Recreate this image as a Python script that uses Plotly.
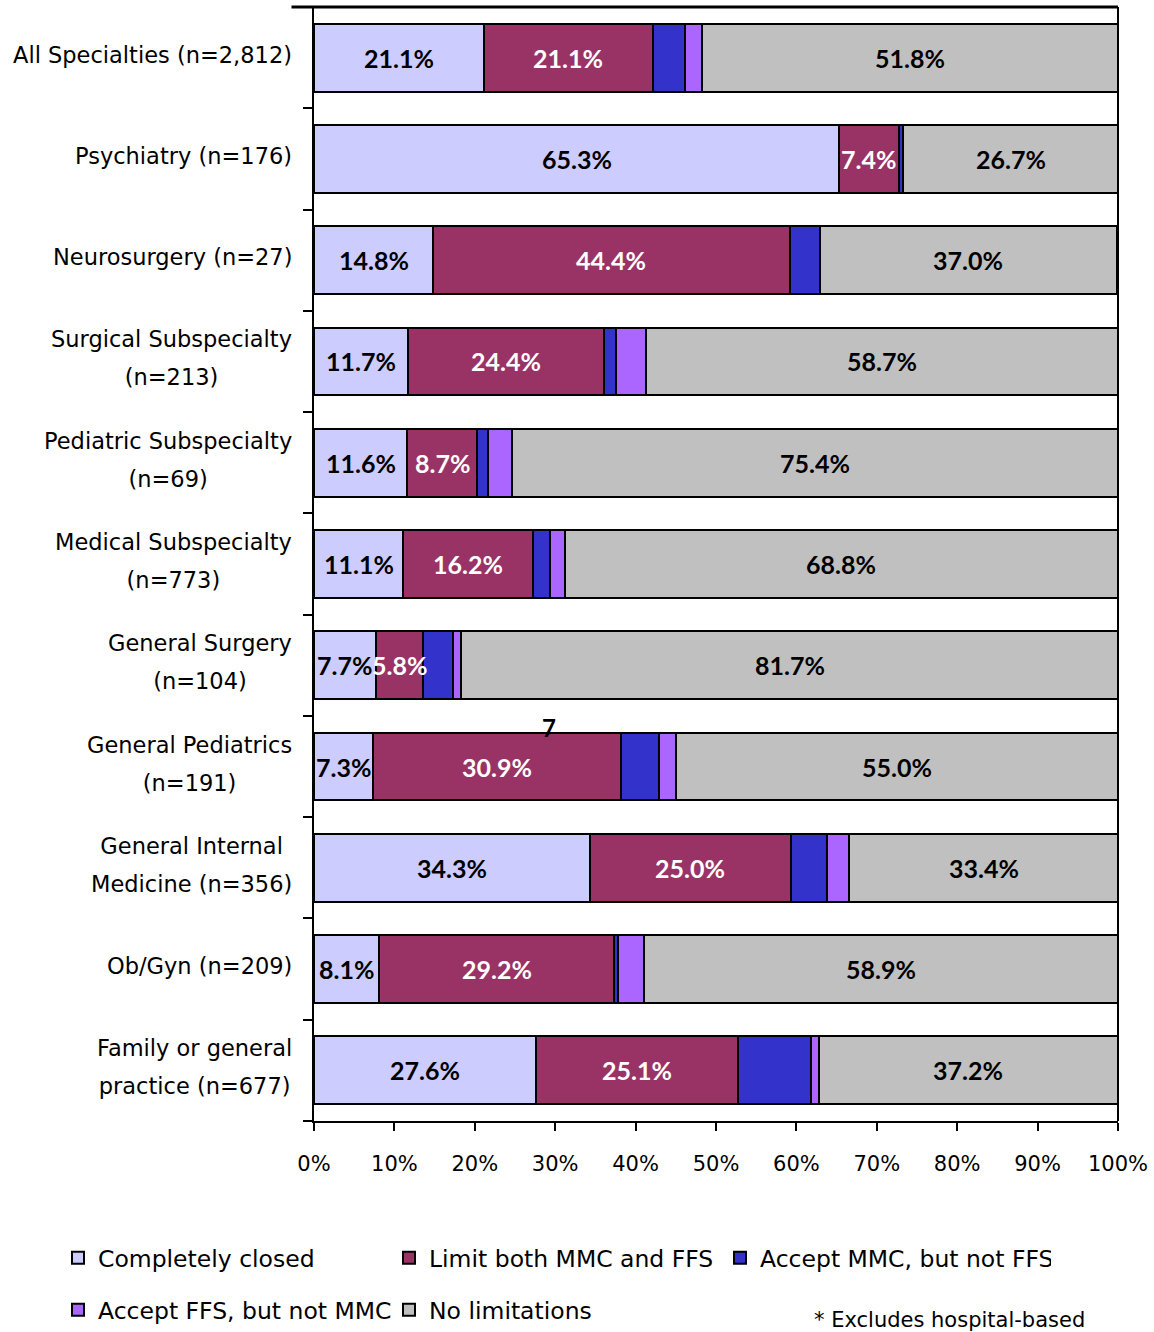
import plotly.graph_objects as go

# Share of physicians by acceptance of new patients, per specialty (percent)
categories = [
    "All Specialties (n=2,812)",
    "Psychiatry (n=176)",
    "Neurosurgery (n=27)",
    "Surgical Subspecialty\n(n=213)",
    "Pediatric Subspecialty\n(n=69)",
    "Medical Subspecialty\n(n=773)",
    "General Surgery\n(n=104)",
    "General Pediatrics\n(n=191)",
    "General Internal\nMedicine (n=356)",
    "Ob/Gyn (n=209)",
    "Family or general\npractice (n=677)",
]

completely_closed = [21.1, 65.3, 14.8, 11.7, 11.6, 11.1, 7.7, 7.3, 34.3, 8.1, 27.6]
limit_both = [21.1, 7.4, 44.4, 24.4, 8.7, 16.2, 5.8, 30.9, 25.0, 29.2, 25.1]
accept_mmc_not_ffs = [4.0, 0.6, 3.7, 1.4, 1.4, 2.1, 3.8, 4.7, 4.5, 0.5, 9.1]
accept_ffs_not_mmc = [2.0, 0.0, 0.0, 3.8, 2.9, 1.8, 1.0, 2.1, 2.8, 3.3, 1.0]
no_limitations = [51.8, 26.7, 37.0, 58.7, 75.4, 68.8, 81.7, 55.0, 33.4, 58.9, 37.2]

series_names = [
    "Completely closed",
    "Limit both MMC and FFS",
    "Accept MMC, but not FFS",
    "Accept FFS, but not MMC",
    "No limitations",
]
series_values = [completely_closed, limit_both, accept_mmc_not_ffs,
                 accept_ffs_not_mmc, no_limitations]
series_colors = ["#CCCCFF", "#993366", "#3333CC", "#AA66FF", "#C0C0C0"]
series_legends = ["legend", "legend", "legend", "legend2", "legend2"]
# which series carry a value label, and in what colour
label_colors = ["black", "white", None, None, "black"]

x_ticks = list(range(0, 101, 10))

FONT = "DejaVu Sans"
VALUE_FONT = "Lato"
LABEL_SIZE = 22.5
LINE_GAP = 38
W, H = 1154, 1332
L, R, T, B = 314, 36, 7, 211
PW, PH = W - L - R, H - T - B


def px_to_paper_x(px):
    return (px - L) / PW


def px_to_paper_y(py):
    return (H - B - py) / PH


fig = go.Figure()
ycat = list(range(len(categories)))

for name, vals, col, lg in zip(series_names, series_values, series_colors, series_legends):
    fig.add_trace(go.Bar(
        y=ycat, x=vals, name=name, orientation="h",
        marker=dict(color=col, line=dict(color="black", width=2)),
        legend=lg, hoverinfo="x+name",
    ))

annotations = []

# value labels centred in their segments
cum = [0.0] * len(categories)
for vals, lc in zip(series_values, label_colors):
    for i, v in enumerate(vals):
        if lc is not None:
            annotations.append(dict(
                x=cum[i] + v / 2, y=i, xref="x", yref="y",
                text=f"{v:.1f}%", showarrow=False,
                font=dict(family=VALUE_FONT, size=25, color=lc, weight="bold"),
            ))
        cum[i] += v

# category labels: centred lines, right edge beside the axis; the outer font
# size sets the line pitch while the spans carry the visible glyph size
for i, cat in enumerate(categories):
    lines = cat.split("\n")
    annotations.append(dict(
        x=0, y=i, xref="paper", yref="y", xanchor="right", yanchor="middle",
        align="center", xshift=-20, yshift=3,
        text="<br>".join(f'<span style="font-size:{LABEL_SIZE}px">{ln}</span>' for ln in lines),
        showarrow=False,
        font=dict(family=FONT, size=LINE_GAP / 1.3, color="black"),
    ))

# stray marker label above General Pediatrics
annotations.append(dict(
    x=29.2, y=6.61, xref="x", yref="y", text="7", showarrow=False,
    font=dict(family=VALUE_FONT, size=24, color="black", weight="bold"),
))

# footnote
annotations.append(dict(
    x=px_to_paper_x(812), y=px_to_paper_y(1306), xref="paper", yref="paper",
    xanchor="left", yanchor="top", text="* Excludes hospital-based",
    showarrow=False, font=dict(family=FONT, size=21, color="black"),
))

legend_common = dict(
    orientation="h", xanchor="left", yanchor="middle",
    entrywidth=286, font=dict(family=FONT, size=23.5), traceorder="normal",
)

fig.update_layout(
    width=W, height=H,
    margin=dict(l=L, r=R, t=T, b=B),
    paper_bgcolor="white", plot_bgcolor="white",
    barmode="stack", bargap=0.33,
    font=dict(family=FONT, size=21, color="black"),
    annotations=annotations,
    shapes=[
        dict(type="line", xref="paper", yref="paper", x0=-0.028, x1=1, y0=1, y1=1,
             line=dict(color="black", width=3)),
        dict(type="line", xref="paper", yref="paper", x0=1, x1=1, y0=0, y1=1,
             line=dict(color="black", width=2)),
    ],
    legend=dict(legend_common, xref="paper", yref="paper",
                x=px_to_paper_x(58), y=px_to_paper_y(1258)),
    legend2=dict(legend_common, xref="container", yref="container",
                 x=58 / W, y=1 - 1310 / H),
    xaxis=dict(
        range=[0, 100], tickvals=x_ticks, ticktext=[f"{t}%" for t in x_ticks],
        ticks="outside", ticklen=8, tickwidth=2, tickcolor="black",
        showline=True, linecolor="black", linewidth=2, showgrid=False,
        zeroline=False, ticklabelstandoff=15,
        tickfont=dict(family=FONT, size=21),
    ),
    yaxis=dict(
        range=[len(categories) - 0.5, -0.5],
        tickvals=[k - 0.5 for k in range(len(categories) + 1)],
        showticklabels=False,
        ticks="outside", ticklen=9, tickwidth=2, tickcolor="black",
        showline=True, linecolor="black", linewidth=2, showgrid=False,
        zeroline=False,
    ),
)

fig.write_html("out.html")
